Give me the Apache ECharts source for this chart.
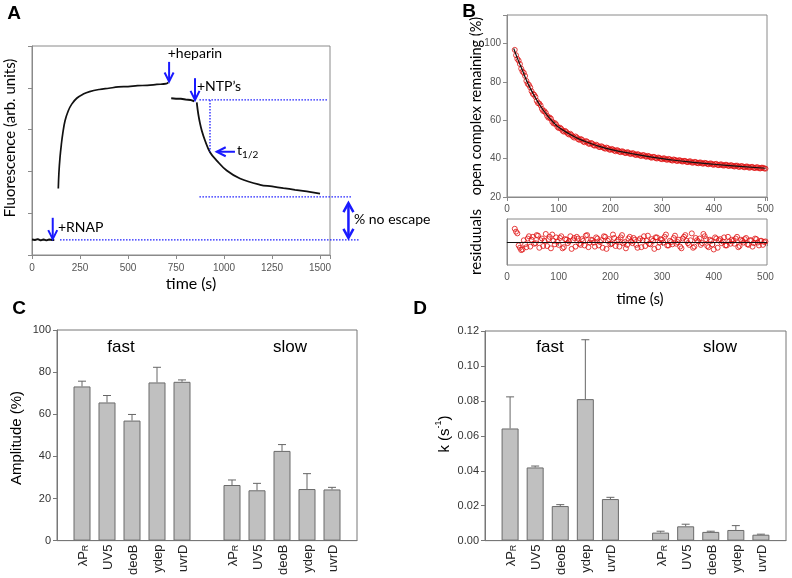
<!DOCTYPE html>
<html><head><meta charset="utf-8">
<script src="https://cdn.jsdelivr.net/npm/echarts@6/dist/echarts.min.js"></script>
<style>html,body{margin:0;padding:0;background:#fff}#c{width:792px;height:578px}</style>
</head><body><div id="c"></div>
<script>
// ---------------- Panel A data (time s, fluorescence arb. units) ----------------
const aBaseTime = [0, 15, 30, 45, 60, 75, 90, 105, 116];
const aBaseValue = [0.37, 0.36, 0.38, 0.35, 0.37, 0.35, 0.37, 0.36, 0.36];
const aRiseTime = [137, 140, 146, 153, 160, 172, 189, 207, 233, 267, 300, 350, 400, 450, 500, 550, 600, 650, 700, 710];
const aRiseValue = [1.59, 1.95, 2.34, 2.65, 2.90, 3.21, 3.45, 3.61, 3.75, 3.85, 3.91, 3.96, 3.99, 4.02, 4.03, 4.05, 4.06, 4.08, 4.10, 4.13];
const aHepTime = [725, 750, 775, 800, 825, 845];
const aHepValue = [3.75, 3.74, 3.74, 3.72, 3.71, 3.68];
const aNtpTime = [858, 866, 875, 884, 901, 927, 962, 1014, 1083, 1188, 1250, 1309, 1370, 1431, 1500];
const aNtpValue = [3.65, 3.37, 3.15, 2.98, 2.74, 2.46, 2.26, 2.02, 1.83, 1.68, 1.64, 1.60, 1.56, 1.52, 1.47];
const aTicks = [0, 250, 500, 750, 1000, 1250, 1500];

// annotations of panel A (data coordinates)
const aDotted = [[872, 3.71, 1543, 3.71], [927, 3.71, 927, 2.47], [872, 1.39, 1661, 1.39], [146, 0.36, 1708, 0.36]];
const aDownArrows = [[714, 4.62, 4.15], [849, 4.23, 3.71], [108, 0.89, 0.38]];
const aLeftArrows = [[1057, 962, 2.47]];
const aDoubleArrows = [[1648, 1.24, 0.41]];
const aLabelPos = [[707, 4.83], [859, 4.04], [135, 0.65], [1068, 2.49], [1677, 0.84]];
const aLabelText = ['+heparin', '+NTP\u2019s', '+RNAP', '{n|t}{s|1/2}', '% no escape'];

// ---------------- Panel B data ----------------
const bTime = [15,20,25,30,35,40,45,50,55,60,65,70,75,80,85,90,95,100,105,110,115,120,125,130,135,140,145,150,155,160,165,170,175,180,185,190,195,200,205,210,215,220,225,230,235,240,245,250,255,260,265,270,275,280,285,290,295,300,305,310,315,320,325,330,335,340,345,350,355,360,365,370,375,380,385,390,395,400,405,410,415,420,425,430,435,440,445,450,455,460,465,470,475,480,485,490,495,500];
const bValue = [96.8,92.1,89.4,85.5,83.2,79.1,77.2,73.8,72.3,69.0,67.8,64.9,63.9,61.4,60.9,58.4,57.9,56.0,55.6,54.1,53.9,52.6,52.3,51.0,51.1,49.8,49.9,48.6,48.9,47.7,47.9,46.8,46.9,46.0,46.1,45.2,45.5,44.6,44.8,43.9,44.2,43.4,43.6,42.9,43.2,42.5,42.7,41.9,42.1,41.4,41.8,41.0,41.2,40.5,40.9,40.1,40.4,39.7,40.1,39.4,39.7,39.0,39.4,38.8,39.1,38.5,38.8,38.2,38.6,37.9,38.3,37.6,38.0,37.4,37.7,37.1,37.5,36.8,37.3,36.6,37.0,36.4,36.8,36.2,36.5,35.9,36.4,35.7,36.1,35.5,35.9,35.3,35.7,35.1,35.5,34.9,35.3,34.8];
const bResidual = [2.3,1.5,-1.0,-1.3,-0.4,0.6,-0.8,0.9,-0.2,1.1,0.3,-0.7,1.4,0.5,-1.1,0.2,0.8,-0.5,1.0,-0.9,0.4,0.1,-1.2,0.7,0.9,-0.3,0.5,-0.6,1.2,-0.1,0.3,-0.8,0.6,0.0,-1.0,0.9,0.2,-0.4,1.3,-0.7,0.4,0.8,-0.2,-1.1,0.6,0.1,0.7,-0.5,0.3,-0.9,1.0,0.2,-0.3,0.5,-1.2,0.8,-0.1,0.4,0.9,-0.6,0.2,-0.4,1.1,0.0,-0.8,0.6,1.2,-0.2,0.3,-1.0,0.7,0.1,-0.5,1.4,0.5,-0.9,0.2,-1.3,0.6,0.3,-0.2,0.8,-0.6,0.1,0.4,-0.3,0.9,-0.7,0.2,0.5,-0.4,0.3,-0.8,0.6,-0.1,0.2,-0.5,0.1];
const bTime2 = [17.5,22.5,27.5,32.5,37.5,42.5,47.5,52.5,57.5,62.5,67.5,72.5,77.5,82.5,87.5,92.5,97.5,102.5,107.5,112.5,117.5,122.5,127.5,132.5,137.5,142.5,147.5,152.5,157.5,162.5,167.5,172.5,177.5,182.5,187.5,192.5,197.5,202.5,207.5,212.5,217.5,222.5,227.5,232.5,237.5,242.5,247.5,252.5,257.5,262.5,267.5,272.5,277.5,282.5,287.5,292.5,297.5,302.5,307.5,312.5,317.5,322.5,327.5,332.5,337.5,342.5,347.5,352.5,357.5,362.5,367.5,372.5,377.5,382.5,387.5,392.5,397.5,402.5,407.5,412.5,417.5,422.5,427.5,432.5,437.5,442.5,447.5,452.5,457.5,462.5,467.5,472.5,477.5,482.5,487.5,492.5,497.5];
const bValue2 = [94.0,91.2,87.0,84.8,80.6,78.5,75.2,73.4,70.2,68.8,66.0,64.8,62.4,61.5,59.3,58.6,56.6,56.2,54.6,54.5,53.1,53.0,51.5,51.6,50.2,50.3,48.9,49.2,47.9,48.2,47.0,47.3,46.2,46.5,45.5,45.8,44.8,45.1,44.2,44.5,43.6,43.9,43.1,43.4,42.6,42.9,42.1,42.4,41.6,41.9,41.2,41.5,40.7,41.0,40.3,40.6,39.9,40.2,39.6,39.9,39.2,39.6,38.9,39.2,38.7,38.9,38.3,38.6,38.0,38.3,37.7,38.0,37.5,37.8,37.2,37.5,37.0,37.2,36.7,37.0,36.5,36.8,36.3,36.6,36.1,36.3,35.8,36.1,35.6,35.9,35.4,35.7,35.2,35.5,35.0,35.3,34.9];
const bResidual2 = [1.8,-0.6,-1.4,0.3,-0.9,1.0,0.4,-0.3,1.2,-1.0,0.6,0.2,-0.7,0.9,1.3,-0.4,0.1,0.7,-1.1,0.5,-0.2,1.0,0.3,-0.8,0.6,-0.5,0.2,1.1,-0.9,0.4,-0.1,0.8,-0.6,0.3,1.0,-1.2,0.5,-0.3,0.7,0.1,-0.8,1.2,0.0,-0.5,0.9,-0.2,0.4,-1.0,0.6,0.3,-0.7,1.1,-0.4,0.2,0.8,-0.9,0.5,-0.1,1.3,-0.6,0.0,0.7,-0.3,0.4,-1.1,0.9,0.2,-0.5,1.5,-0.8,0.3,0.6,-0.2,1.0,-0.7,0.4,-0.4,0.8,-1.0,0.5,0.1,-0.6,0.9,-0.3,0.2,0.6,-0.9,0.4,-0.1,0.7,-0.5,0.3,-0.2,0.5,-0.6,0.2,0.0];
const bFitTime = [13, 20, 30, 40, 50, 60, 70, 80, 90, 100, 120, 140, 160, 180, 200, 240, 280, 320, 360, 400, 450, 500];
const bFitValue = [97.5, 92.5, 86.0, 79.5, 74.2, 69.5, 65.4, 61.9, 58.9, 56.4, 53.0, 50.2, 48.1, 46.3, 44.9, 42.7, 40.8, 39.3, 38.1, 37.1, 36.0, 35.0];

// ---------------- Panels C and D ----------------
const promoters = ['λPR', 'UV5', 'deoB', 'ydep', 'uvrD'];
const groups = ['fast', 'slow'];
const ampFast = [73.2, 65.6, 57.0, 75.1, 75.4];
const ampFastErr = [75.7, 68.9, 59.9, 82.3, 76.3];
const ampSlow = [26.4, 23.9, 42.6, 24.5, 24.3];
const ampSlowErr = [28.8, 27.2, 45.6, 31.8, 25.3];
const kFast = [0.0642, 0.0419, 0.0198, 0.0810, 0.0238];
const kFastErr = [0.0823, 0.0427, 0.0206, 0.1150, 0.0248];
const kSlow = [0.0046, 0.0082, 0.0050, 0.0061, 0.0034];
const kSlowErr = [0.0054, 0.0094, 0.0054, 0.0086, 0.0037];

const LATO = 'Lato, "Open Sans", sans-serif';
const ARIAL = '"Liberation Sans", Arial, sans-serif';
const BLUE = '#1a1aff';
const GRAYAX = '#8a8a8a';

const zip = (xs, ys) => xs.slice(0, Math.min(xs.length, ys.length)).map((x, i) => [x, ys[i]]);

const catAxis = ['gapL'].concat(promoters.map(p => groups[0] + '|' + p), ['gapM'], promoters.map(p => groups[1] + '|' + p), ['gapR']);
function barData(fast, slow) { return [null].concat(fast, [null], slow, [null]); }
function errData(fast, slow, fe, se) {
  const out = [];
  fast.forEach((v, i) => out.push([1 + i, v, fe[i]]));
  slow.forEach((v, i) => out.push([7 + i, v, se[i]]));
  return out;
}
function catFormatter(v) {
  if (v.indexOf('|') < 0) return '';
  const n = v.split('|')[1];
  if (n === 'λPR') return '{n|λP}{s|R}';
  return '{n|' + n + '}';
}
const catRich = { n: { fontSize: 13, fontFamily: ARIAL, color: '#222', verticalAlign: 'bottom', lineHeight: 16 }, s: { fontSize: 9, fontFamily: ARIAL, color: '#222', verticalAlign: 'bottom', lineHeight: 16 } };

function valAxis(grid, min, max, interval, opts) {
  opts = opts || {};
  return Object.assign({
    type: 'value', gridIndex: grid, min, max, interval,
    axisLine: { show: true, lineStyle: { color: GRAYAX, width: 1 } },
    axisTick: { show: true, length: 4, inside: false, lineStyle: { color: GRAYAX } },
    splitLine: { show: false },
    axisLabel: { fontSize: 10, color: '#555', fontFamily: ARIAL, margin: 7 }
  }, opts);
}
function errRender(p, api) {
  const a = api.coord([api.value(0), api.value(1)]), b = api.coord([api.value(0), api.value(2)]);
  return { type: 'group', children: [
    { type: 'line', shape: { x1: a[0], y1: a[1], x2: b[0], y2: b[1] }, style: { stroke: '#666', lineWidth: 1 } },
    { type: 'line', shape: { x1: b[0] - 4, y1: b[1], x2: b[0] + 4, y2: b[1] }, style: { stroke: '#666', lineWidth: 1 } }
  ] };
}
const ring = { color: 'rgba(0,0,0,0)', borderColor: '#e01010', borderWidth: 1 };

const option = {
  animation: false,
  backgroundColor: '#fff',
  grid: [
    { left: 32, top: 46, width: 298, height: 209, show: true, borderColor: GRAYAX, borderWidth: 1 },
    { left: 507, top: 15, width: 260, height: 182, show: true, borderColor: GRAYAX, borderWidth: 1 },
    { left: 507, top: 219, width: 260, height: 46, show: true, borderColor: GRAYAX, borderWidth: 1 },
    { left: 57, top: 330, width: 300, height: 211, show: true, borderColor: '#777', borderWidth: 1 },
    { left: 485, top: 331, width: 301, height: 210, show: true, borderColor: '#777', borderWidth: 1 }
  ],
  xAxis: [
    valAxis(0, 0, 1552, 250, { axisLabel: { fontSize: 10, color: '#555', fontFamily: ARIAL, margin: 8, formatter: v => (aTicks.indexOf(v) >= 0 ? String(v) : '') } }),
    valAxis(1, 0, 503, 100, { axisLabel: { fontSize: 10, color: '#555', fontFamily: ARIAL, margin: 7, formatter: v => (v % 100 === 0 ? String(v) : '') } }),
    valAxis(2, 0, 503, 100, { axisLabel: { fontSize: 10, color: '#555', fontFamily: ARIAL, margin: 7, formatter: v => (v % 100 === 0 ? String(v) : '') } }),
    { type: 'category', gridIndex: 3, data: catAxis, boundaryGap: false, axisLine: { show: true, lineStyle: { color: '#777' } }, axisTick: { show: false },
      axisLabel: { interval: 0, rotate: 90, margin: 4, formatter: catFormatter, rich: catRich } },
    { type: 'category', gridIndex: 4, data: catAxis, boundaryGap: false, axisLine: { show: true, lineStyle: { color: '#777' } }, axisTick: { show: false },
      axisLabel: { interval: 0, rotate: 90, margin: 4, formatter: catFormatter, rich: catRich } }
  ],
  yAxis: [
    valAxis(0, 0, 5, 1, { axisLabel: { show: false } }),
    valAxis(1, 20, 115, 20, { axisLabel: { fontSize: 10, color: '#555', fontFamily: ARIAL, margin: 6, formatter: v => (v % 20 === 0 ? String(v) : '') } }),
    valAxis(2, -4, 4, 4, { axisLabel: { show: false }, axisTick: { show: false } }),
    valAxis(3, 0, 100, 20, { axisLine: { show: true, lineStyle: { color: '#777' } }, axisTick: { show: true, length: 4, lineStyle: { color: '#777' } }, axisLabel: { fontSize: 11, color: '#333', fontFamily: ARIAL, margin: 6 } }),
    valAxis(4, 0, 0.12, 0.02, { axisLine: { show: true, lineStyle: { color: '#777' } }, axisTick: { show: true, length: 4, lineStyle: { color: '#777' } }, axisLabel: { fontSize: 11, color: '#333', fontFamily: ARIAL, margin: 6, formatter: v => v.toFixed(2) } })
  ],
  series: [
    { type: 'line', xAxisIndex: 0, yAxisIndex: 0, data: zip(aBaseTime, aBaseValue), showSymbol: false, lineStyle: { color: '#111', width: 2 } },
    { type: 'line', xAxisIndex: 0, yAxisIndex: 0, data: zip(aRiseTime, aRiseValue), showSymbol: false, smooth: 0.4, lineStyle: { color: '#111', width: 1.7 } },
    { type: 'line', xAxisIndex: 0, yAxisIndex: 0, data: zip(aHepTime, aHepValue), showSymbol: false, lineStyle: { color: '#111', width: 2 } },
    { type: 'line', xAxisIndex: 0, yAxisIndex: 0, data: zip(aNtpTime, aNtpValue), showSymbol: false, smooth: 0.4, lineStyle: { color: '#111', width: 1.8 } },
    { type: 'custom', xAxisIndex: 0, yAxisIndex: 0, clip: false, data: aDotted, encode: { x: [0, 2], y: [1, 3] }, z: 5,
      renderItem: (p, api) => {
        const a = api.coord([api.value(0), api.value(1)]), b = api.coord([api.value(2), api.value(3)]);
        return { type: 'line', shape: { x1: a[0], y1: a[1], x2: b[0], y2: b[1] }, style: { stroke: BLUE, lineWidth: 1.3, lineDash: [1.5, 1.5] } };
      } },
    { type: 'custom', xAxisIndex: 0, yAxisIndex: 0, clip: false, data: aDownArrows, encode: { x: 0, y: [1, 2] }, z: 6,
      renderItem: (p, api) => {
        const a = api.coord([api.value(0), api.value(1)]), b = api.coord([api.value(0), api.value(2)]);
        return { type: 'group', children: [
          { type: 'line', shape: { x1: a[0], y1: a[1], x2: b[0], y2: b[1] }, style: { stroke: BLUE, lineWidth: 2 } },
          { type: 'polyline', shape: { points: [[b[0] - 4.5, b[1] - 9], [b[0], b[1]], [b[0] + 4.5, b[1] - 9]] }, style: { stroke: BLUE, lineWidth: 2, fill: null } }
        ] };
      } },
    { type: 'custom', xAxisIndex: 0, yAxisIndex: 0, clip: false, data: aLeftArrows, encode: { x: [0, 1], y: 2 }, z: 6,
      renderItem: (p, api) => {
        const a = api.coord([api.value(0), api.value(2)]), b = api.coord([api.value(1), api.value(2)]);
        return { type: 'group', children: [
          { type: 'line', shape: { x1: a[0], y1: a[1], x2: b[0], y2: b[1] }, style: { stroke: BLUE, lineWidth: 2 } },
          { type: 'polyline', shape: { points: [[b[0] + 9, b[1] - 4.5], [b[0], b[1]], [b[0] + 9, b[1] + 4.5]] }, style: { stroke: BLUE, lineWidth: 2, fill: null } }
        ] };
      } },
    { type: 'custom', xAxisIndex: 0, yAxisIndex: 0, clip: false, data: aDoubleArrows, encode: { x: 0, y: [1, 2] }, z: 6,
      renderItem: (p, api) => {
        const a = api.coord([api.value(0), api.value(1)]), b = api.coord([api.value(0), api.value(2)]);
        return { type: 'group', children: [
          { type: 'line', shape: { x1: a[0], y1: a[1], x2: b[0], y2: b[1] }, style: { stroke: BLUE, lineWidth: 2.5 } },
          { type: 'polyline', shape: { points: [[a[0] - 5, a[1] + 9], [a[0], a[1]], [a[0] + 5, a[1] + 9]] }, style: { stroke: BLUE, lineWidth: 2.5, fill: null } },
          { type: 'polyline', shape: { points: [[b[0] - 5, b[1] - 9], [b[0], b[1]], [b[0] + 5, b[1] - 9]] }, style: { stroke: BLUE, lineWidth: 2.5, fill: null } }
        ] };
      } },
    { type: 'custom', xAxisIndex: 0, yAxisIndex: 0, clip: false, data: aLabelPos, encode: { x: 0, y: 1 }, z: 7,
      renderItem: (p, api) => {
        const a = api.coord([api.value(0), api.value(1)]);
        return { type: 'text', x: a[0], y: a[1], style: { text: aLabelText[p.dataIndex], fill: '#000', font: '14px ' + LATO, align: 'left', verticalAlign: 'middle',
          rich: { n: { fontSize: 14, fontFamily: LATO, fill: '#000', lineHeight: 18, verticalAlign: 'middle' }, s: { fontSize: 10, fontFamily: LATO, fill: '#000', lineHeight: 18, verticalAlign: 'bottom' } } } };
      } },
    // Panel B
    { type: 'scatter', xAxisIndex: 1, yAxisIndex: 1, data: zip(bTime, bValue), symbol: 'circle', symbolSize: 5, itemStyle: ring, z: 3 },
    { type: 'scatter', xAxisIndex: 1, yAxisIndex: 1, data: zip(bTime2, bValue2), symbol: 'circle', symbolSize: 5, itemStyle: ring, z: 3 },
    { type: 'line', xAxisIndex: 1, yAxisIndex: 1, data: zip(bFitTime, bFitValue), smooth: 0.5, showSymbol: false, lineStyle: { color: '#111', width: 1.2 }, z: 4 },
    { type: 'scatter', xAxisIndex: 2, yAxisIndex: 2, data: zip(bTime, bResidual), symbol: 'circle', symbolSize: 5, itemStyle: ring, z: 3,
      markLine: { silent: true, symbol: 'none', label: { show: false }, lineStyle: { color: '#111', width: 1, type: 'solid' }, data: [{ yAxis: 0 }], z: 4 } },
    { type: 'scatter', xAxisIndex: 2, yAxisIndex: 2, data: zip(bTime2, bResidual2), symbol: 'circle', symbolSize: 5, itemStyle: ring, z: 3 },
    // Panel C
    { type: 'bar', xAxisIndex: 3, yAxisIndex: 3, data: barData(ampFast, ampSlow), barWidth: 17,
      itemStyle: { color: '#c0c0c0', borderColor: '#6a6a6a', borderWidth: 1 } },
    { type: 'custom', xAxisIndex: 3, yAxisIndex: 3, data: errData(ampFast, ampSlow, ampFastErr, ampSlowErr), encode: { x: 0, y: [1, 2] }, z: 5, renderItem: errRender },
    // Panel D
    { type: 'bar', xAxisIndex: 4, yAxisIndex: 4, data: barData(kFast, kSlow), barWidth: 17,
      itemStyle: { color: '#c0c0c0', borderColor: '#6a6a6a', borderWidth: 1 } },
    { type: 'custom', xAxisIndex: 4, yAxisIndex: 4, data: errData(kFast, kSlow, kFastErr, kSlowErr), encode: { x: 0, y: [1, 2] }, z: 5, renderItem: errRender }
  ],
  graphic: [
    { type: 'text', x: 14, y: 14, style: { text: 'A', font: 'bold 19px ' + ARIAL, fill: '#000', align: 'center', verticalAlign: 'middle' } },
    { type: 'text', x: 469, y: 12, style: { text: 'B', font: 'bold 19px ' + ARIAL, fill: '#000', align: 'center', verticalAlign: 'middle' } },
    { type: 'text', x: 19, y: 309, style: { text: 'C', font: 'bold 19px ' + ARIAL, fill: '#000', align: 'center', verticalAlign: 'middle' } },
    { type: 'text', x: 420, y: 309, style: { text: 'D', font: 'bold 19px ' + ARIAL, fill: '#000', align: 'center', verticalAlign: 'middle' } },
    { type: 'text', x: 10, y: 138, rotation: Math.PI / 2, style: { text: 'Fluorescence (arb. units)', font: '15px ' + LATO, fill: '#000', align: 'center', verticalAlign: 'middle' } },
    { type: 'text', x: 191, y: 284, style: { text: 'time (s)', font: '16px ' + LATO, fill: '#000', align: 'center', verticalAlign: 'middle' } },
    { type: 'text', x: 476, y: 106, rotation: Math.PI / 2, style: { text: 'open complex remaining (%)', font: '14.5px ' + LATO, fill: '#000', align: 'center', verticalAlign: 'middle' } },
    { type: 'text', x: 476, y: 242, rotation: Math.PI / 2, style: { text: 'residuuals', font: '15px ' + LATO, fill: '#000', align: 'center', verticalAlign: 'middle' } },
    { type: 'text', x: 640, y: 299, style: { text: 'time (s)', font: '15px ' + LATO, fill: '#000', align: 'center', verticalAlign: 'middle' } },
    { type: 'text', x: 17, y: 438, rotation: Math.PI / 2, style: { text: 'Amplitude (%)', font: '15px ' + ARIAL, fill: '#000', align: 'center', verticalAlign: 'middle' } },
    { type: 'text', x: 443, y: 434, rotation: Math.PI / 2, style: { text: '{n|k (s}{p|-1}{n|)}', fill: '#000', align: 'center', verticalAlign: 'middle',
      rich: { n: { fontSize: 15, fontFamily: ARIAL, fill: '#000', lineHeight: 18, verticalAlign: 'bottom' }, p: { fontSize: 9, fontFamily: ARIAL, fill: '#000', lineHeight: 18, verticalAlign: 'top' } } } },
    { type: 'text', x: 121, y: 347, style: { text: groups[0], font: '17px ' + ARIAL, fill: '#000', align: 'center', verticalAlign: 'middle' } },
    { type: 'text', x: 290, y: 347, style: { text: groups[1], font: '17px ' + ARIAL, fill: '#000', align: 'center', verticalAlign: 'middle' } },
    { type: 'text', x: 550, y: 347, style: { text: groups[0], font: '17px ' + ARIAL, fill: '#000', align: 'center', verticalAlign: 'middle' } },
    { type: 'text', x: 720, y: 347, style: { text: groups[1], font: '17px ' + ARIAL, fill: '#000', align: 'center', verticalAlign: 'middle' } }
  ]
};

const chart = echarts.init(document.getElementById('c'), null, { renderer: 'canvas' });
chart.setOption(option);
</script>
</body></html>
